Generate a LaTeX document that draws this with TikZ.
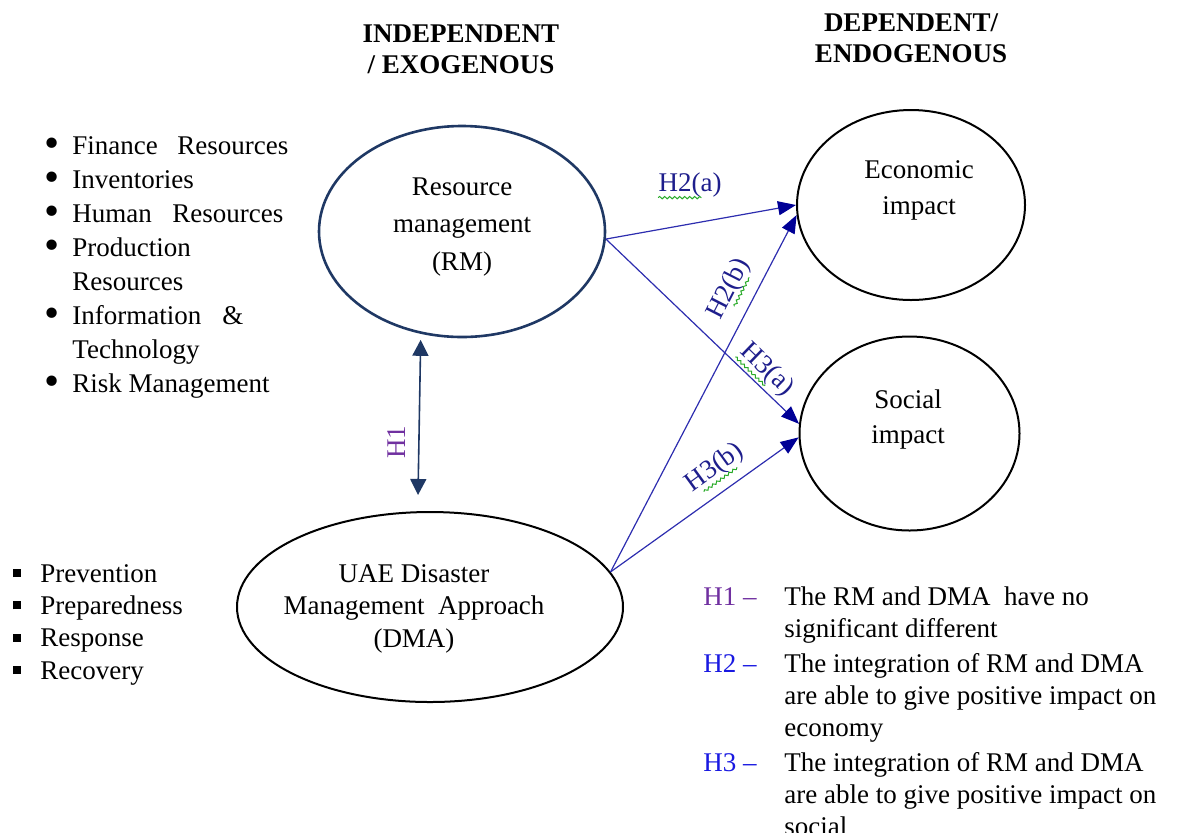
\documentclass[tikz,border=0pt]{standalone}
\usepackage{fontspec}
\usepackage{graphicx}
\setmainfont{Liberation Serif}
\usetikzlibrary{shapes.geometric,arrows.meta,calc,decorations.pathmorphing}
\definecolor{navy}{RGB}{31,56,100}
\definecolor{linkblue}{RGB}{45,45,175}
\definecolor{headblue}{RGB}{0,0,150}
\definecolor{labblue}{RGB}{30,30,140}
\definecolor{hypblue}{RGB}{25,25,225}
\definecolor{hyppurple}{RGB}{112,48,160}
\definecolor{squig}{RGB}{40,170,40}
\newcommand{\bigbul}{\raisebox{-1.9pt}{\scalebox{1.6}{\textbullet}}}
\newcommand{\sqbul}{\rule[2.5pt]{4pt}{4pt}}
\begin{document}
\begin{tikzpicture}[x=0.5pt,y=-0.5pt,
    every node/.style={inner sep=0pt,font=\fontsize{13.5}{17}\selectfont},
    oval/.style={ellipse,draw,line width=1pt},
    link/.style={draw=linkblue,line width=0.6pt,-{Triangle[length=9pt,width=7pt,color=headblue]}},
    hlab/.style={text=labblue},
    squiggle/.style={draw=squig,line width=0.5pt,decorate,decoration={snake,amplitude=0.6pt,segment length=2.5pt}}]
  \useasboundingbox (0,0) rectangle (1182,832);
  % column headings
  \node[anchor=north,align=center,font=\bfseries\fontsize{13.5}{15.5}\selectfont] (indep) at (461,24) {INDEPENDENT\\/ EXOGENOUS};
  \node[anchor=north,align=center,font=\bfseries\fontsize{13.5}{15.5}\selectfont] (dep) at (911,13) {DEPENDENT/\\ENDOGENOUS};
  % constructs
  \node[oval,draw=navy,line width=1.3pt,minimum width=143pt,minimum height=105.5pt] (rm) at (462,231.5) {};
  \node[oval,minimum width=193pt,minimum height=95pt] (dma) at (430,607) {};
  \node[oval,minimum width=114pt,minimum height=95pt] (eco) at (911,205) {};
  \node[oval,minimum width=110pt,minimum height=97pt] (soc) at (909.5,433.5) {};
  \node[anchor=north,align=center,font=\fontsize{13.5}{18.75}\selectfont] (rmtxt) at (462,177) {Resource\\management\\(RM)};
  \node[anchor=north,align=center,font=\fontsize{13.5}{16.25}\selectfont] (dmatxt) at (414,564) {UAE Disaster\\Management\ \ Approach\\(DMA)};
  \node[anchor=north,align=center,font=\fontsize{13.5}{18}\selectfont] (ecotxt) at (919,160) {Economic\\impact};
  \node[anchor=north,align=center,font=\fontsize{13.5}{17.5}\selectfont] (soctxt) at (908,389) {Social\\impact};
  % item lists
  \node[anchor=base west] (reslist) at (44,154) {\begin{tabular}[t]{@{}p{14pt}@{}l@{}}
    \bigbul & \makebox[108pt][s]{Finance Resources}\\
    \bigbul & Inventories\\
    \bigbul & \makebox[105.5pt][s]{Human Resources}\\
    \bigbul & Production\\
            & Resources\\
    \bigbul & \makebox[85.5pt][s]{Information \&}\\
            & Technology\\
    \bigbul & Risk Management
  \end{tabular}};
  \node[anchor=base west,font=\fontsize{13.5}{16.2}\selectfont] (dmalist) at (13,582) {\begin{tabular}[t]{@{}p{13.5pt}@{}l@{}}
    \sqbul & Prevention\\
    \sqbul & Preparedness\\
    \sqbul & Response\\
    \sqbul & Recovery
  \end{tabular}};
  % hypotheses
  \coordinate (h1bot) at (418,495);
  \draw[navy,line width=0.8pt,{Triangle[length=8pt,width=8pt]}-{Triangle[length=8pt,width=8pt]}] ($(rm.248)+(0,6)$) -- (h1bot);
  \node[rotate=90,text=hyppurple] (h1) at (397,442) {H1};
  \draw[link] (rm.-3) -- (eco.180);
  \draw[link] (rm.-3) -- (soc.175);
  \draw[link] (dma.11) -- (eco.185);
  \draw[link] (dma.11) -- (soc.182);
  \node[hlab] (h2a) at (690,185) {H2(a)};
  \node[hlab,rotate=63] (h2b) at (729,289) {H2(b)};
  \node[hlab,rotate=-44] (h3a) at (767,370) {H3(a)};
  \node[hlab,rotate=36] (h3b) at (715,468) {H3(b)};
  \draw[squiggle] (h2a.south west) -- ($(h2a.south west)!0.68!(h2a.south east)$);
  \draw[squiggle] ($(h2b.south west)!0.3!(h2b.south east)$) -- ($(h2b.south west)!0.8!(h2b.south east)$);
  \draw[squiggle] (h3a.south west) -- ($(h3a.south west)!0.65!(h3a.south east)$);
  \draw[squiggle] ($(h3b.south west)!0.15!(h3b.south east)$) -- ($(h3b.south west)!0.78!(h3b.south east)$);
  % legend
  \node[anchor=base west,font=\fontsize{13.5}{16}\selectfont] (legend) at (703,605) {\begin{tabular}[t]{@{}p{40.5pt}@{}l@{}}
    \textcolor{hyppurple}{H1 --} & The RM and DMA\ \ have no\\
                                 & significant different\\[1.5pt]
    \textcolor{hypblue}{H2 --}   & The integration of RM and DMA\\
                                 & are able to give positive impact on\\
                                 & economy\\[1.5pt]
    \textcolor{hypblue}{H3 --}   & The integration of RM and DMA\\
                                 & are able to give positive impact on\\
                                 & social
  \end{tabular}};
\end{tikzpicture}
\end{document}
